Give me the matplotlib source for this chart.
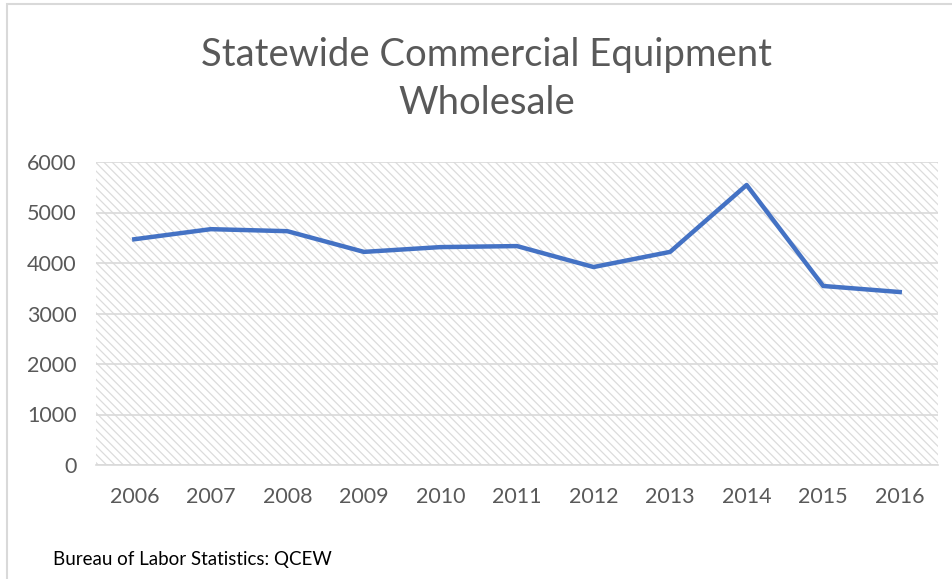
import matplotlib.pyplot as plt
from matplotlib.patches import Rectangle

plt.rcParams['font.family'] = ['Lato', 'DejaVu Sans']
plt.rcParams['hatch.color'] = '#dcdcdc'
plt.rcParams['hatch.linewidth'] = 0.9

years = ['2006', '2007', '2008', '2009', '2010', '2011', '2012', '2013', '2014', '2015', '2016']
employment = [4470, 4670, 4630, 4220, 4315, 4335, 3920, 4220, 5545, 3545, 3425]
y_ticks = [0, 1000, 2000, 3000, 4000, 5000, 6000]

fig = plt.figure(figsize=(9.53, 5.79), dpi=100)
ax = fig.add_axes([96 / 953, 1 - 465 / 579, 842 / 953, 303 / 579])

# outer chart frame
fig.patches.append(Rectangle((7 / 953, -0.05), 1.0, 1 - 4 / 579 + 0.05, transform=fig.transFigure,
                             fill=False, edgecolor='#d9d9d9', linewidth=1.5))

ax.patch.set_facecolor('white')
ax.patch.set_hatch('\\\\\\\\')
ax.patch.set_edgecolor('#dcdcdc')

ax.plot(range(len(years)), employment, color='#4472C4', linewidth=3.2, solid_joinstyle='round', zorder=3)

ax.set_xlim(-0.5, len(years) - 0.5)
ax.set_ylim(0, 6000)
ax.set_xticks(range(len(years)))
ax.set_xticklabels(years)
ax.set_yticks(y_ticks)
ax.grid(axis='y', color='#d9d9d9', linewidth=1.2)
ax.set_axisbelow(True)
ax.tick_params(length=0, labelsize=15.5, colors='#595959', pad=16)
ax.tick_params(axis='y', pad=14)
for s in ['top', 'right', 'left']:
    ax.spines[s].set_visible(False)
ax.spines['bottom'].set_color('#d9d9d9')
ax.spines['bottom'].set_linewidth(1.2)

fig.text(487 / 953, 1 - 79 / 579, 'Statewide Commercial Equipment\nWholesale', ha='center', va='center',
         fontsize=27.5, color='#595959', linespacing=1.4)
fig.text(53 / 953, 1 - 559 / 579, 'Bureau of Labor Statistics: QCEW', ha='left', va='center',
         fontsize=13.5, color='black')

fig.savefig('out.png', dpi=100)
